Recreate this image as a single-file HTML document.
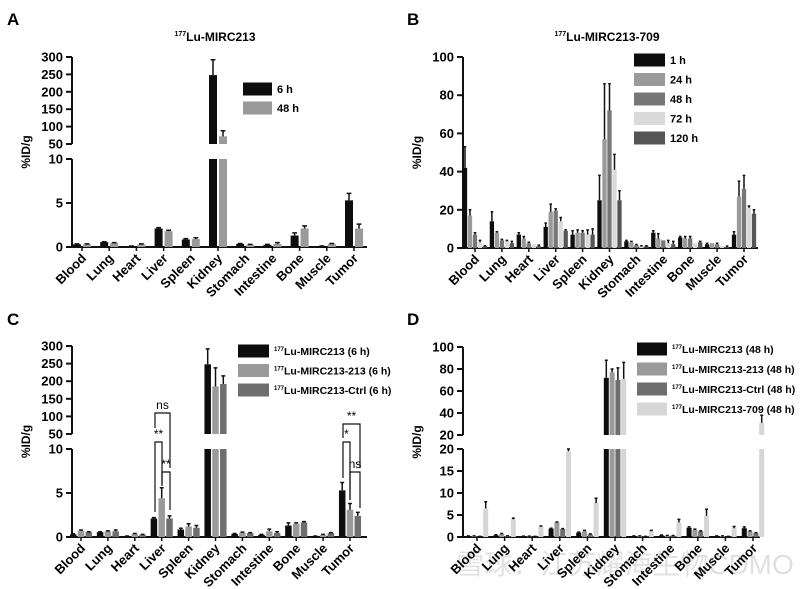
<!DOCTYPE html>
<html><head><meta charset="utf-8">
<style>
html,body{margin:0;padding:0;background:#fff;}
svg{display:block;font-family:"Liberation Sans",Arial,sans-serif;font-weight:bold;}
</style></head>
<body>
<svg id="fig" width="800" height="589" viewBox="0 0 800 589">
<text x="7" y="25" font-size="17">A</text>
<text x="407" y="25" font-size="17">B</text>
<text x="7" y="325" font-size="17">C</text>
<text x="407" y="325" font-size="17">D</text>
<text x="215" y="41" font-size="12" text-anchor="middle"><tspan font-size="7" dy="-5">177</tspan><tspan dy="5">Lu-MIRC213</tspan></text>
<text x="607" y="41" font-size="12" text-anchor="middle"><tspan font-size="7" dy="-5">177</tspan><tspan dy="5">Lu-MIRC213-709</tspan></text>
<text x="625" y="574" font-size="28" font-weight="normal" fill="#000" fill-opacity="0.12" text-anchor="middle">雪球：江苏耀海生物CDMO</text>
</svg>
<script>
const categories = ["Blood","Lung","Heart","Liver","Spleen","Kidney","Stomach","Intestine","Bone","Muscle","Tumor"];
// Panel A
const seriesA = ["6 h","48 h"];
const valuesA6 = [0.3,0.55,0.1,2.1,0.85,248,0.35,0.25,1.3,0.1,5.3];
const errA6 = [0.35,0.6,0.12,2.2,0.95,292,0.4,0.3,1.6,0.12,6.1];
const valuesA48 = [0.3,0.45,0.3,1.8,0.9,72,0.25,0.35,2.1,0.35,2.1];
const errA48 = [0.35,0.5,0.35,1.9,1.05,88,0.3,0.5,2.4,0.4,2.6];
// Panel B
const seriesB = ["1 h","24 h","48 h","72 h","120 h"];
const valuesB1 = [42,14,7,11,7,25,3.5,8,5.5,2,7];
const errB1 = [53,19,8,13,9,38,4,9,6,2.5,8.5];
const valuesB24 = [17,8,5,19,8,57,3,5,5,2.5,27];
const errB24 = [20,8.5,6,23,9.5,86,3.5,7.5,6,2.5,35];
const valuesB48 = [7,4,2.5,19.5,8,72,1.5,4,5,2,31];
const errB48 = [8,4.5,3,20.5,9,86,1.8,4,6,2.5,38];
const valuesB72 = [3,3.5,2,14,7,41,1,2.5,2.5,1,21];
const errB72 = [4,4,2,16,9.5,49,1.2,4,2.5,1,22];
const valuesB120 = [1,2.5,1,9,7,25,1,2,3,0.5,18];
const errB120 = [1.2,3.5,1.5,9.5,10,30,1.2,3.5,3.5,1,20];
// Panel C
const seriesC = ["MIRC213 (6 h)","MIRC213-213 (6 h)","MIRC213-Ctrl (6 h)"];
const valuesC1 = [0.3,0.55,0.1,2.1,0.85,248,0.35,0.25,1.3,0.1,5.3];
const errC1 = [0.35,0.6,0.12,2.2,1.0,292,0.4,0.3,1.6,0.12,6.2];
const valuesC2 = [0.7,0.65,0.35,4.4,1.2,185,0.5,0.65,1.5,0.25,3.1];
const errC2 = [0.8,0.7,0.4,5.6,1.5,238,0.55,0.9,1.6,0.3,3.8];
const valuesC3 = [0.55,0.65,0.25,2.1,1.05,192,0.45,0.45,1.65,0.45,2.4];
const errC3 = [0.6,0.8,0.3,2.4,1.3,215,0.5,0.6,1.75,0.5,2.8];
// Panel D
const seriesD = ["MIRC213 (48 h)","MIRC213-213 (48 h)","MIRC213-Ctrl (48 h)","MIRC213-709 (48 h)"];
const valuesD1 = [0.2,0.4,0.15,1.9,1,72,0.2,0.35,2.1,0.2,2];
const errD1 = [0.25,0.5,0.2,2,1.1,88,0.25,0.45,2.3,0.25,2.3];
const valuesD2 = [0.2,0.7,0.15,3.3,1.3,77,0.2,0.3,1.6,0.2,1.3];
const errD2 = [0.25,0.8,0.2,3.4,1.5,80,0.25,0.35,1.8,0.25,1.4];
const valuesD3 = [0.1,0.2,0.1,1.8,0.6,70,0.1,0.3,1.3,0.1,0.9];
const errD3 = [0.15,0.25,0.15,1.9,0.7,81,0.15,0.35,1.4,0.15,1.0];
const valuesD4 = [6.5,4,2.3,19.5,7.7,71,1.3,3.3,4.8,2,31];
const errD4 = [8,4.3,2.5,20,8.8,86,1.5,4,6.3,2.4,38];

const NS="http://www.w3.org/2000/svg";
const svg=document.getElementById('fig');
function mk(tag,attrs,parent){const e=document.createElementNS(NS,tag);for(const k in attrs)e.setAttribute(k,attrs[k]);(parent||svg).appendChild(e);return e;}

function panel(p){
  const g=mk('g',{});
  
  
  function yLow(v){return p.low.y0-(v/p.low.max)*(p.low.y0-p.low.y1);}
  function yUp(v){return p.up.y0-(v-p.up.min)/(p.up.max-p.up.min)*(p.up.y0-p.up.y1);}
  function y(v){ if(!p.up||v<=p.low.max) return yLow(v); return yUp(Math.max(v,p.up.min)); }
  function cx(i){return p.c0+i*p.step;}
  const ax=mk('path',{d:p.up?`M${p.x0},${p.low.y0}V${p.low.y1}M${p.x0},${p.up.y0}V${p.up.y1}M${p.x0},${p.low.y0}H${p.x1}`:`M${p.x0},${p.low.y0}V${p.low.y1}M${p.x0},${p.low.y0}H${p.x1}`,stroke:'#111','stroke-width':2,fill:'none'},g);
  
  
  function tick(ty,label){
    mk('line',{x1:p.x0-6,x2:p.x0,y1:ty,y2:ty,stroke:'#111','stroke-width':2},g);
    const tl=mk('text',{x:p.x0-9,y:ty+4.5,'font-size':13,'text-anchor':'end'},g);
    tl.textContent=label;
    
    
  }
  p.lowTicks.forEach(t=>tick(yLow(t),t));
  if(p.up) p.upTicks.forEach(t=>tick(yUp(t),t));
  const yl=mk('text',{x:0,y:0,'font-size':12,'text-anchor':'middle',transform:`translate(${p.x0-42},${(p.low.y0+(p.up?p.up.y1:p.low.y1))/2}) rotate(-90)`},g);
  yl.textContent='%ID/g';
  
  
  categories.forEach((c,i)=>{
    mk('line',{x1:cx(i),x2:cx(i),y1:p.low.y0,y2:p.low.y0+4,stroke:'#111','stroke-width':1.5},g);
    const t=mk('text',{x:0,y:0,'font-size':13,'text-anchor':'end',transform:`translate(${cx(i)+5},${p.low.y0+12}) rotate(-45)`},g);
    t.textContent=c;
    
    
  });
  const n=p.vals.length, tw=n*p.bw+(n-1)*p.gap;
  p.vals.forEach((arr,s)=>{
    arr.forEach((v,i)=>{
      const bx=cx(i)-tw/2+s*(p.bw+p.gap);
      const lowTop=yLow(Math.min(v,p.low.max));
      const r=mk('rect',{x:bx,y:lowTop,width:p.bw,height:p.low.y0-lowTop,fill:p.colors[s]},g);
      
      
      if(p.up&&v>p.low.max){
        const top=yUp(Math.max(v,p.up.min));
        const r2=mk('rect',{x:bx,y:top,width:p.bw,height:p.up.y0-top,fill:p.colors[s]},g);
        
        
      }
      const e=p.errs[s][i];
      if(e>v){
        const ex=bx+p.bw/2, ye=y(e), yv=y(v);
        mk('path',{d:`M${ex},${yv}V${ye}M${ex-p.bw*0.3},${ye}H${ex+p.bw*0.3}`,stroke:'#111','stroke-width':1.5,fill:'none'},g);
      }
    });
  });
  p.series.forEach((s,k)=>{
    const ly=p.leg.y+k*p.leg.dy;
    const lr=mk('rect',{x:p.leg.x,y:ly-p.leg.h/2,width:p.leg.w,height:p.leg.h,fill:p.colors[k]},g);
    
    
    const lt=mk('text',{x:p.leg.x+p.leg.w+5,y:ly+4,'font-size':p.leg.fs},g);
    
    
    if(p.leg.pre){
      const a=mk('tspan',{'font-size':6,dy:-4},lt);a.textContent='177';
      const b=mk('tspan',{dy:4},lt);b.textContent='Lu-'+s;
    } else lt.textContent=s;
  });
}

panel({name:'panel-a',x0:72,x1:367,c0:82,step:27.2,bw:8,gap:2,
  low:{y0:247,y1:159,max:10},up:{y0:144,y1:57,min:50,max:300},
  lowTicks:[0,5,10],upTicks:[50,100,150,200,250,300],
  vals:[valuesA6,valuesA48],errs:[errA6,errA48],series:seriesA,colors:['#0d0d0d','#9a9a9a'],
  leg:{x:243,y:89,dy:19,w:29,h:13,fs:11}});
panel({name:'panel-b',x0:463,x1:758,c0:475,step:26.9,bw:4.3,gap:0.7,
  low:{y0:248,y1:57,max:100},up:null,
  lowTicks:[0,20,40,60,80,100],
  vals:[valuesB1,valuesB24,valuesB48,valuesB72,valuesB120],errs:[errB1,errB24,errB48,errB72,errB120],series:seriesB,
  colors:['#0d0d0d','#9a9a9a','#777','#dadada','#555'],
  leg:{x:634,y:60,dy:19.5,w:31,h:13,fs:11}});
panel({name:'panel-c',x0:72,x1:367,c0:81,step:26.9,bw:6.5,gap:1.3,
  low:{y0:537,y1:449,max:10},up:{y0:434,y1:346,min:50,max:300},
  lowTicks:[0,5,10],upTicks:[50,100,150,200,250,300],
  vals:[valuesC1,valuesC2,valuesC3],errs:[errC1,errC2,errC3],series:seriesC,colors:['#0d0d0d','#9a9a9a','#6e6e6e'],
  leg:{x:238,y:351,dy:19.5,w:31,h:13,fs:10.5,pre:true}});
panel({name:'panel-d',x0:463,x1:760,c0:477,step:27.6,bw:5,gap:0.8,
  low:{y0:537,y1:449,max:20},up:{y0:435,y1:347,min:20,max:100},
  lowTicks:[0,5,10,15,20],upTicks:[20,40,60,80,100],
  vals:[valuesD1,valuesD2,valuesD3,valuesD4],errs:[errD1,errD2,errD3,errD4],series:seriesD,colors:['#0d0d0d','#9a9a9a','#6e6e6e','#d6d6d6'],
  leg:{x:637,y:349,dy:20,w:30,h:13,fs:10.5,pre:true}});

// significance brackets in panel C (a,b = x; y = top; la, lb = leg bottoms)
const brackets=[
  {a:155,b:170,y:413,la:428,lb:468,t:'ns'},
  {a:155,b:162,y:442,la:512,lb:484,t:'**'},
  {a:162,b:170,y:472,la:486,lb:510,t:'**'},
  {a:343,b:360,y:424,la:438,lb:468,t:'**'},
  {a:343,b:350,y:442,la:478,lb:500,t:'*'},
  {a:350,b:360,y:472,la:500,lb:508,t:'ns'}];
brackets.forEach(br=>{
  const p=mk('path',{d:`M${br.a},${br.la}V${br.y}H${br.b}V${br.lb}`,stroke:'#111','stroke-width':1.2,fill:'none'});
  
  
  const t=mk('text',{x:(br.a+br.b)/2,y:br.y-4,'font-size':12,'font-weight':'normal','text-anchor':'middle'});
  t.textContent=br.t;
  
  
});
</script>
</body></html>
